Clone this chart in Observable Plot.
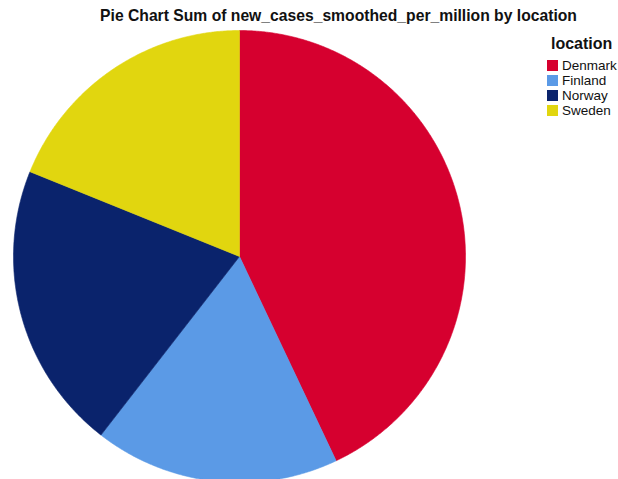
<!DOCTYPE html>
<html>
<head>
<meta charset="utf-8">
<script src="https://cdn.jsdelivr.net/npm/d3@7"></script>
<script src="https://cdn.jsdelivr.net/npm/@observablehq/plot@0.6"></script>
<style>
  body { margin: 0; background: #fff; font-family: "Liberation Sans", Arial, sans-serif; }
  #wrap { position: relative; width: 618px; height: 479px; overflow: hidden; }
  #wrap svg { position: absolute; left: 0; top: 0; }
  #title { position: absolute; left: 0; width: 677px; top: 7px; text-align: center; font-weight: bold; font-size: 15.7px; color: #111; white-space: nowrap; }
  #legend { position: absolute; left: 547px; top: 35px; color: #111; }
  #legend .lt { font-weight: bold; font-size: 16px; margin-left: 4px; margin-bottom: 5px; }
  #legend .row { display: flex; align-items: center; height: 15px; font-size: 13.5px; }
  #legend .sw { width: 11px; height: 11px; margin-right: 4px; }
</style>
</head>
<body>
<div id="wrap">
  <div id="title"></div>
  <div id="legend"></div>
</div>
<script>
const titleText = "Pie Chart Sum of new_cases_smoothed_per_million by location";
const legendTitle = "location";
const locations = ["Denmark", "Finland", "Norway", "Sweden"];
const sums = [42.97, 17.53, 20.62, 18.88];
const colors = ["#d6002f", "#5b9ae6", "#0a236c", "#e1d60f"];

const data = locations.map((l, i) => ({location: l, value: sums[i]}));
const arcs = d3.pie().sort(null).value(d => d.value)(data);

const pts = [];
for (const a of arcs) {
  const loc = a.data.location;
  pts.push({location: loc, x: 0, y: 0});
  const n = Math.max(2, Math.ceil((a.endAngle - a.startAngle) / 0.005));
  for (let k = 0; k <= n; k++) {
    const t = a.startAngle + (a.endAngle - a.startAngle) * k / n;
    pts.push({location: loc, x: Math.sin(t), y: Math.cos(t)});
  }
  pts.push({location: loc, x: 0, y: 0});
}

const chart = Plot.plot({
  width: 618,
  height: 479,
  margin: 0,
  x: {domain: [-1, 1], range: [13, 465], axis: null},
  y: {domain: [-1, 1], range: [482, 30], axis: null},
  color: {domain: locations, range: colors},
  marks: [
    Plot.line(pts, {x: "x", y: "y", z: "location", fill: "location", stroke: "location", strokeWidth: 0.6, curve: "linear"})
  ]
});
const wrap = document.getElementById("wrap");
wrap.insertBefore(chart, wrap.firstChild);

document.getElementById("title").textContent = titleText;
const lg = document.getElementById("legend");
const lt = document.createElement("div");
lt.className = "lt";
lt.textContent = legendTitle;
lg.appendChild(lt);
locations.forEach((l, i) => {
  const r = document.createElement("div");
  r.className = "row";
  const s = document.createElement("div");
  s.className = "sw";
  s.style.background = colors[i];
  const t = document.createElement("span");
  t.textContent = l;
  r.appendChild(s);
  r.appendChild(t);
  lg.appendChild(r);
});
</script>
</body>
</html>
